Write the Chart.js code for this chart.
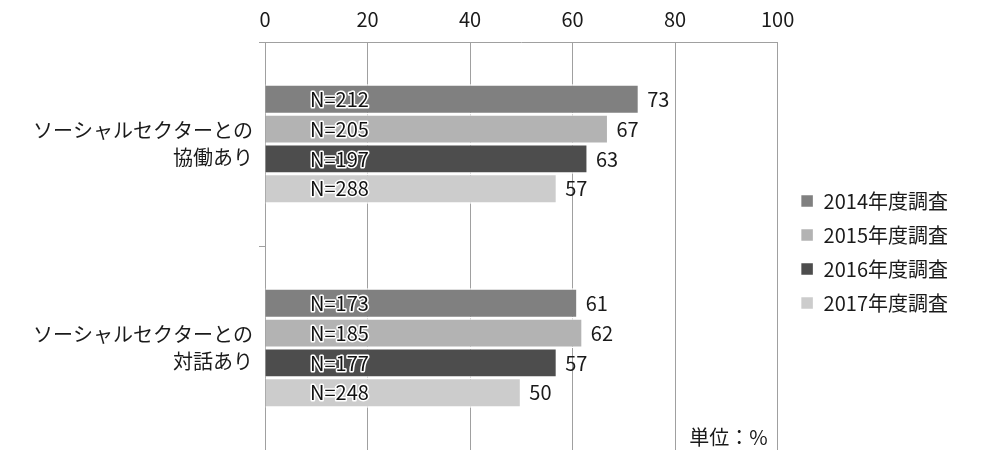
<!DOCTYPE html>
<html>
<head>
<meta charset="utf-8">
<script src="https://cdn.jsdelivr.net/npm/chart.js@4"></script>
<style>
  html, body { margin: 0; padding: 0; background: #fff; }
  #wrap { width: 981px; height: 450px; }
</style>
</head>
<body>
<div id="wrap"><canvas id="chart"></canvas></div>
<script>
// データ
const categories = [['ソーシャルセクターとの', '協働あり'], ['ソーシャルセクターとの', '対話あり']];
const seriesNames = ['2014年度調査', '2015年度調査', '2016年度調査', '2017年度調査'];
const values2014 = [73, 61];
const values2015 = [67, 62];
const values2016 = [63, 57];
const values2017 = [57, 50];
const n2014 = [212, 173];
const n2015 = [205, 185];
const n2016 = [197, 177];
const n2017 = [288, 248];
const xTicks = [0, 20, 40, 60, 80, 100];
const unitLabel = '単位：%';

const seriesValues = [values2014, values2015, values2016, values2017];
const sampleSizes = [n2014, n2015, n2016, n2017];
const colors = ['#808080', '#b3b3b3', '#4d4d4d', '#cccccc'];

const FONT = '"Noto Sans CJK JP", "Noto Sans", sans-serif';
const TEXT = '#1a1a1a';
const LINE = '#a0a0a0';

// バー横のラベル、N= ラベル、単位
const labelPlugin = {
  id: 'barLabels',
  beforeDraw(chart) {
    // 凡例の位置を少し右下へ
    const lg = chart.legend;
    const w = lg.right - lg.left;
    lg.left = chart.chartArea.right + 9;
    lg.right = lg.left + w;
    lg.top = chart.chartArea.top + 6;
    lg.bottom = chart.chartArea.bottom + 6;
  },
  afterDatasetsDraw(chart) {
    const ctx = chart.ctx;
    const x0 = chart.scales.x.getPixelForValue(0);
    ctx.save();
    ctx.font = '20px ' + FONT;
    ctx.textBaseline = 'middle';
    ctx.lineJoin = 'round';
    chart.data.datasets.forEach((ds, i) => {
      chart.getDatasetMeta(i).data.forEach((bar, j) => {
        ctx.textAlign = 'left';
        ctx.fillStyle = TEXT;
        ctx.fillText(String(ds.data[j]), bar.x + 8, bar.y);
        const txt = 'N=' + sampleSizes[i][j];
        ctx.lineWidth = 3;
        ctx.strokeStyle = '#fff';
        ctx.strokeText(txt, x0 + 45, bar.y);
        ctx.fillStyle = '#111';
        ctx.fillText(txt, x0 + 45, bar.y);
      });
    });
    ctx.textAlign = 'right';
    ctx.fillStyle = TEXT;
    ctx.fillText(unitLabel, chart.chartArea.right - 10, chart.chartArea.bottom - 13);
    ctx.restore();
  }
};

new Chart(document.getElementById('chart'), {
  type: 'bar',
  data: {
    labels: categories,
    datasets: seriesNames.map((name, i) => ({
      label: name,
      data: seriesValues[i],
      backgroundColor: colors[i],
      borderColor: '#ffffff',
      borderWidth: 1.5,
      borderSkipped: 'start',
      categoryPercentage: 0.585,
      barPercentage: 1.0
    }))
  },
  options: {
    indexAxis: 'y',
    responsive: true,
    maintainAspectRatio: false,
    animation: false,
    layout: { padding: { top: 0, right: 32, bottom: 0, left: 0 } },
    scales: {
      x: {
        position: 'top',
        min: 0,
        max: 100,
        afterBuildTicks: s => { s.ticks = xTicks.map(v => ({ value: v })); },
        ticks: { color: TEXT, font: { family: FONT, size: 20 }, padding: 11, maxRotation: 0 },
        grid: { color: LINE, drawTicks: false },
        border: { color: LINE },
        afterFit: s => { s.height = 42; s.paddingLeft = 0; s.paddingRight = 0; }
      },
      y: {
        ticks: { color: TEXT, font: { family: FONT, size: 20, lineHeight: 1.35 }, padding: 6 },
        grid: { drawOnChartArea: false, tickLength: 6, color: LINE },
        border: { color: LINE },
        afterFit: s => { s.width = 265; s.paddingTop = 0; s.paddingBottom = 0; }
      }
    },
    plugins: {
      legend: {
        position: 'right',
        fullSize: false,
        labels: {
          boxWidth: 13,
          boxHeight: 13,
          padding: 14,
          color: TEXT,
          font: { family: FONT, size: 20 }
        }
      },
      tooltip: { enabled: false }
    }
  },
  plugins: [labelPlugin]
});
</script>
</body>
</html>
